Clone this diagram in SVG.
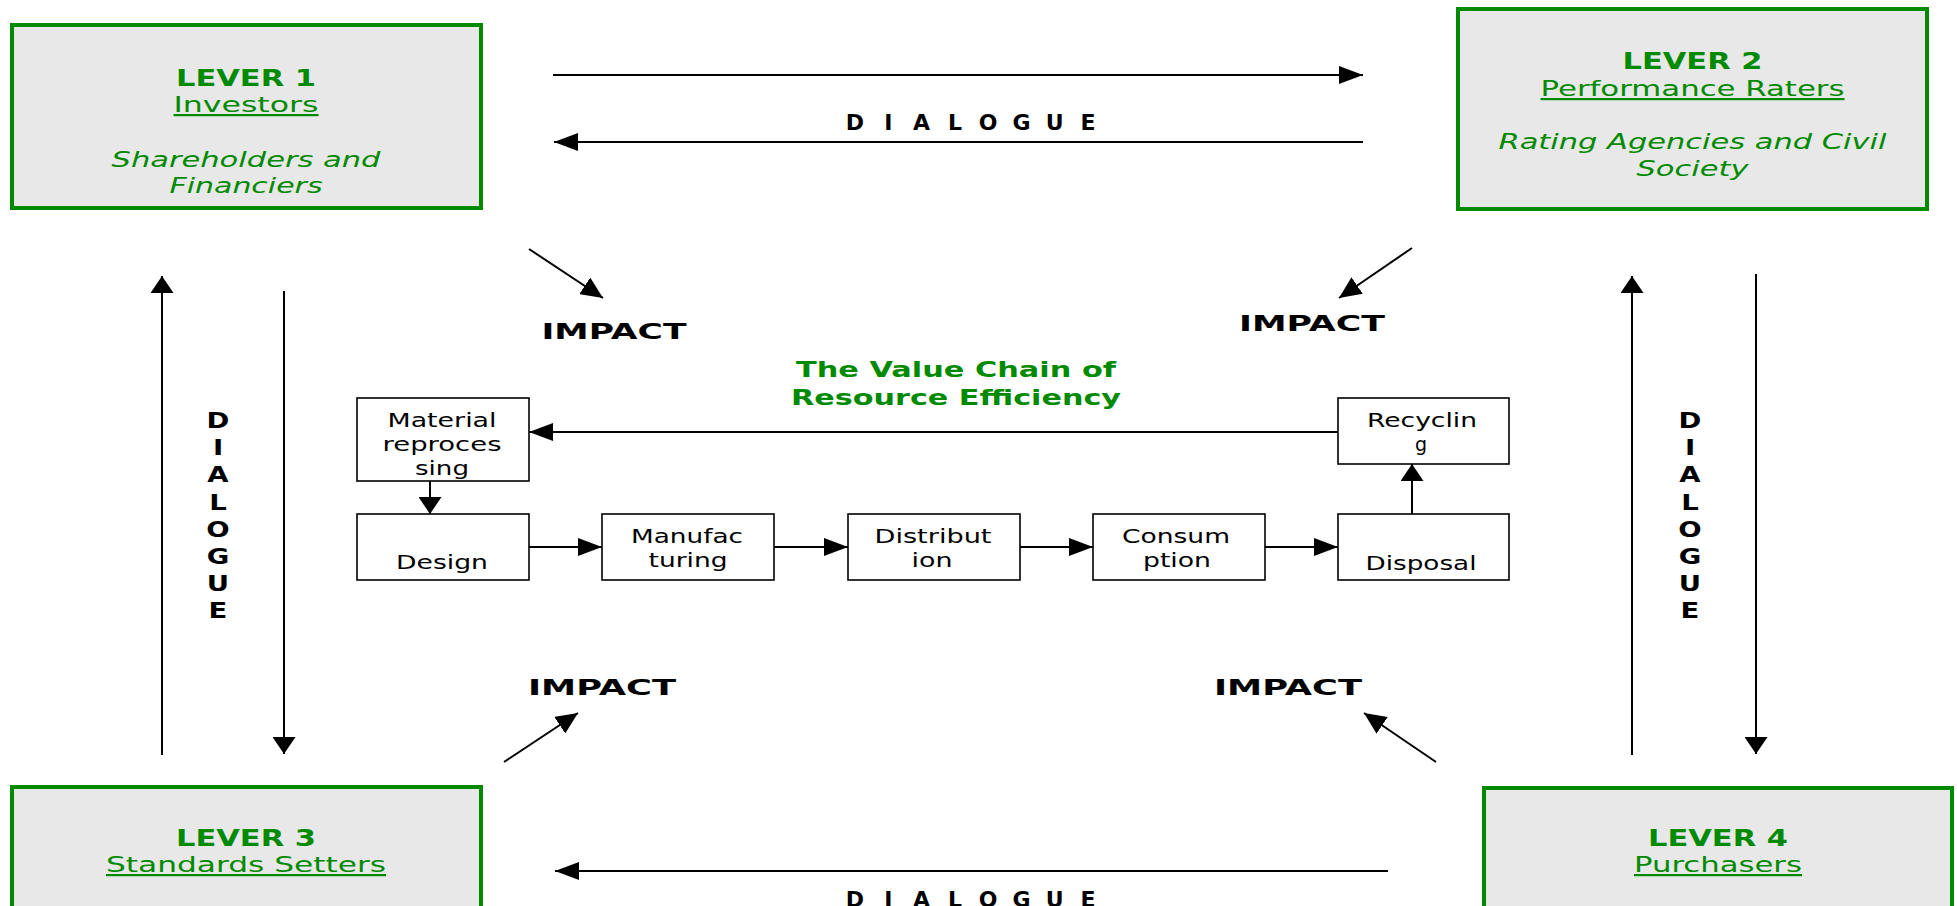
<svg xmlns="http://www.w3.org/2000/svg" width="1957" height="906" viewBox="0 0 1957 906">
<style>
.lever rect{fill:#E8E8E8;stroke:#008A00;stroke-width:4}
.lt{font-family:"DejaVu Sans",Verdana,sans-serif;fill:#008A00;text-anchor:middle}
.b{font-weight:bold;font-size:23px}
.u{font-size:22px;text-decoration:underline}
.i{font-size:22px;font-style:italic}
.proc rect{fill:#fff;stroke:#000;stroke-width:1.6}
.pt{font-family:"DejaVu Sans",Verdana,sans-serif;font-size:19px;fill:#000;text-anchor:middle}
.lbl{font-family:"DejaVu Sans",Verdana,sans-serif;font-weight:bold;font-size:22px;fill:#000;text-anchor:middle}
.title{font-family:"DejaVu Sans",Verdana,sans-serif;font-weight:bold;font-size:22px;fill:#008A00;text-anchor:middle}
.c line{stroke:#000;stroke-width:2;fill:none}
.h{marker-end:url(#ah)}
.v{marker-end:url(#av)}
.d{marker-end:url(#ad)}
</style>
<defs>
<marker id="ah" markerUnits="userSpaceOnUse" markerWidth="24" markerHeight="18" refX="24" refY="9" orient="auto"><path d="M0,0 L24,9 L0,18 Z" fill="#000"/></marker>
<marker id="av" markerUnits="userSpaceOnUse" markerWidth="17" markerHeight="23" refX="17" refY="11.5" orient="auto"><path d="M0,0 L17,11.5 L0,23 Z" fill="#000"/></marker>
<marker id="ad" markerUnits="userSpaceOnUse" markerWidth="22" markerHeight="20" refX="22" refY="10" orient="auto"><path d="M0,0 L22,10 L0,20 Z" fill="#000"/></marker>
</defs>
<rect width="1957" height="906" fill="#fff"/>

<g id="lever1" class="lever">
<rect x="12" y="25" width="469" height="183"/>
<text class="lt b" x="246" y="86" textLength="140" lengthAdjust="spacingAndGlyphs">LEVER 1</text>
<text class="lt u" x="246" y="112" textLength="145" lengthAdjust="spacingAndGlyphs">Investors</text>
<text class="lt i" x="246" y="167" textLength="269" lengthAdjust="spacingAndGlyphs">Shareholders and</text>
<text class="lt i" x="246" y="193" textLength="153" lengthAdjust="spacingAndGlyphs">Financiers</text>
</g>

<g id="lever2" class="lever">
<rect x="1458" y="9" width="469" height="200"/>
<text class="lt b" x="1692.5" y="69" textLength="140" lengthAdjust="spacingAndGlyphs">LEVER 2</text>
<text class="lt u" x="1692.5" y="96" textLength="304" lengthAdjust="spacingAndGlyphs">Performance Raters</text>
<text class="lt i" x="1692.5" y="149" textLength="388" lengthAdjust="spacingAndGlyphs">Rating Agencies and Civil</text>
<text class="lt i" x="1692.5" y="176" textLength="112" lengthAdjust="spacingAndGlyphs">Society</text>
</g>

<g id="lever3" class="lever">
<rect x="12" y="787" width="469" height="200"/>
<text class="lt b" x="246" y="846" textLength="140" lengthAdjust="spacingAndGlyphs">LEVER 3</text>
<text class="lt u" x="246" y="872" textLength="280" lengthAdjust="spacingAndGlyphs">Standards Setters</text>
</g>

<g id="lever4" class="lever">
<rect x="1484" y="788" width="468" height="200"/>
<text class="lt b" x="1718" y="846" textLength="140" lengthAdjust="spacingAndGlyphs">LEVER 4</text>
<text class="lt u" x="1718" y="872" textLength="168" lengthAdjust="spacingAndGlyphs">Purchasers</text>
</g>

<g id="title">
<text class="title" x="956" y="377" textLength="320" lengthAdjust="spacingAndGlyphs">The Value Chain of</text>
<text class="title" x="956" y="405" textLength="330" lengthAdjust="spacingAndGlyphs">Resource Efficiency</text>
</g>

<g id="material" class="proc">
<rect x="357" y="398" width="172" height="83"/>
<text class="pt" x="442" y="427" textLength="109" lengthAdjust="spacingAndGlyphs">Material</text>
<text class="pt" x="442" y="451" textLength="119" lengthAdjust="spacingAndGlyphs">reproces</text>
<text class="pt" x="442" y="475" textLength="54" lengthAdjust="spacingAndGlyphs">sing</text>
</g>
<g id="design" class="proc">
<rect x="357" y="514" width="172" height="66"/>
<text class="pt" x="442" y="569" textLength="92" lengthAdjust="spacingAndGlyphs">Design</text>
</g>
<g id="manufacturing" class="proc">
<rect x="602" y="514" width="172" height="66"/>
<text class="pt" x="687" y="543" textLength="112" lengthAdjust="spacingAndGlyphs">Manufac</text>
<text class="pt" x="688" y="567" textLength="79" lengthAdjust="spacingAndGlyphs">turing</text>
</g>
<g id="distribution" class="proc">
<rect x="848" y="514" width="172" height="66"/>
<text class="pt" x="933" y="543" textLength="117" lengthAdjust="spacingAndGlyphs">Distribut</text>
<text class="pt" x="932" y="567" textLength="41" lengthAdjust="spacingAndGlyphs">ion</text>
</g>
<g id="consumption" class="proc">
<rect x="1093" y="514" width="172" height="66"/>
<text class="pt" x="1176" y="543" textLength="108" lengthAdjust="spacingAndGlyphs">Consum</text>
<text class="pt" x="1177" y="567" textLength="68" lengthAdjust="spacingAndGlyphs">ption</text>
</g>
<g id="disposal" class="proc">
<rect x="1338" y="514" width="171" height="66"/>
<text class="pt" x="1421" y="570" textLength="111" lengthAdjust="spacingAndGlyphs">Disposal</text>
</g>
<g id="recycling" class="proc">
<rect x="1338" y="398" width="171" height="66"/>
<text class="pt" x="1422" y="427" textLength="110" lengthAdjust="spacingAndGlyphs">Recyclin</text>
<text class="pt" x="1421" y="451">g</text>
</g>

<g id="connectors" class="c">
<line class="h" x1="553" y1="75" x2="1363" y2="75"/>
<line class="h" x1="1363" y1="142" x2="554" y2="142"/>
<line class="h" x1="1388" y1="871" x2="555" y2="871"/>
<line class="v" x1="162" y1="755" x2="162" y2="276"/>
<line class="v" x1="284" y1="291" x2="284" y2="754"/>
<line class="v" x1="1632" y1="755" x2="1632" y2="276"/>
<line class="v" x1="1756" y1="274" x2="1756" y2="754"/>
<line class="d" x1="529" y1="249" x2="603" y2="298"/>
<line class="d" x1="1412" y1="248" x2="1339" y2="298"/>
<line class="d" x1="504" y1="762" x2="578" y2="713"/>
<line class="d" x1="1436" y1="762" x2="1364" y2="713"/>
<line class="v" x1="430" y1="481" x2="430" y2="514"/>
<line class="h" x1="529" y1="547" x2="602" y2="547"/>
<line class="h" x1="774" y1="547" x2="848" y2="547"/>
<line class="h" x1="1020" y1="547" x2="1093" y2="547"/>
<line class="h" x1="1265" y1="547" x2="1338" y2="547"/>
<line class="v" x1="1412" y1="514" x2="1412" y2="464"/>
<line class="h" x1="1338" y1="432" x2="529" y2="432"/>
</g>

<g id="labels">
<text class="lbl" x="855 888.3 921.6 954.9 988.2 1021.5 1054.8 1088.1" y="130">DIALOGUE</text>
<text class="lbl" x="855 888.3 921.6 954.9 988.2 1021.5 1054.8 1088.1" y="907">DIALOGUE</text>
<g transform="translate(218,0) scale(1.25,1)">
<text class="lbl"><tspan x="0" y="428">D</tspan><tspan x="0" y="455">I</tspan><tspan x="0" y="482">A</tspan><tspan x="0" y="510">L</tspan><tspan x="0" y="537">O</tspan><tspan x="0" y="564">G</tspan><tspan x="0" y="591">U</tspan><tspan x="0" y="618">E</tspan></text>
</g>
<g transform="translate(1690,0) scale(1.25,1)">
<text class="lbl"><tspan x="0" y="428">D</tspan><tspan x="0" y="455">I</tspan><tspan x="0" y="482">A</tspan><tspan x="0" y="510">L</tspan><tspan x="0" y="537">O</tspan><tspan x="0" y="564">G</tspan><tspan x="0" y="591">U</tspan><tspan x="0" y="618">E</tspan></text>
</g>
<text class="lbl" x="614" y="339" textLength="145" lengthAdjust="spacingAndGlyphs">IMPACT</text>
<text class="lbl" x="1312" y="331" textLength="146" lengthAdjust="spacingAndGlyphs">IMPACT</text>
<text class="lbl" x="602" y="695" textLength="148" lengthAdjust="spacingAndGlyphs">IMPACT</text>
<text class="lbl" x="1288" y="695" textLength="148" lengthAdjust="spacingAndGlyphs">IMPACT</text>
</g>
</svg>
